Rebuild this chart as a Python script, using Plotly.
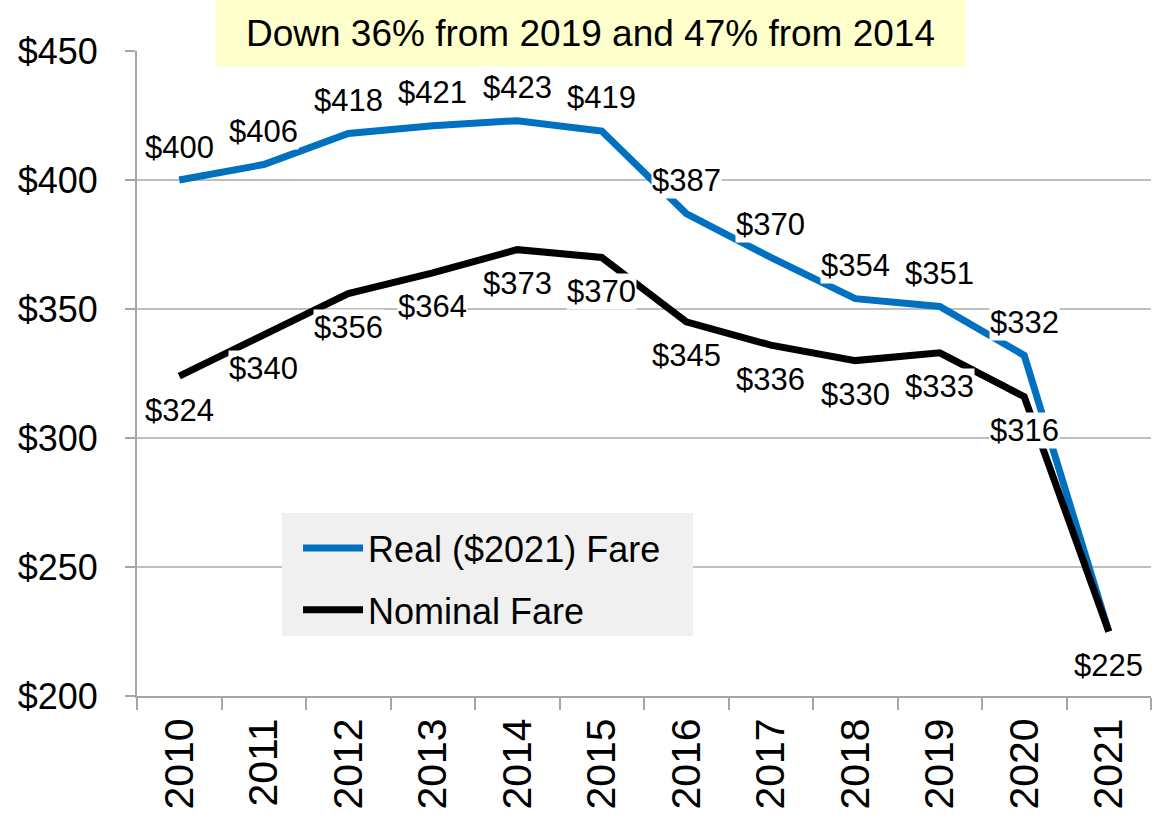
import plotly.graph_objects as go

years = ["2010", "2011", "2012", "2013", "2014", "2015", "2016", "2017", "2018", "2019", "2020", "2021"]
real_fare = [400, 406, 418, 421, 423, 419, 387, 370, 354, 351, 332, 225]
nominal_fare = [324, 340, 356, 364, 373, 370, 345, 336, 330, 333, 316, 225]
show_real_label = [True] * 11 + [False]
show_nominal_label = [True] * 12
y_ticks = [200, 250, 300, 350, 400, 450]
y_tick_text = ["$200", "$250", "$300", "$350", "$400", "$450"]
headline = "Down 36% from 2019 and 47% from 2014"

FONT = "Arial, Liberation Sans, sans-serif"
BLUE = "#0070C0"

fig = go.Figure()
fig.add_trace(go.Scatter(x=years, y=real_fare, mode="lines", name="Real ($2021) Fare",
                         line=dict(color=BLUE, width=7), legendgroup="a"))
fig.add_trace(go.Scatter(x=years, y=nominal_fare, mode="lines", name="Nominal Fare",
                         line=dict(color="#000000", width=7), legendgroup="b"))

annotations = []
for i, (v, s) in enumerate(zip(real_fare, show_real_label)):
    if s:
        annotations.append(dict(x=i, y=v, xref="x", yref="y", text=f"${v}", showarrow=False,
                                yshift=33, bgcolor="white", borderpad=0,
                                font=dict(family=FONT, size=31, color="black")))
for i, (v, s) in enumerate(zip(nominal_fare, show_nominal_label)):
    if s:
        annotations.append(dict(x=i, y=v, xref="x", yref="y", text=f"${v}", showarrow=False,
                                yshift=-34, bgcolor="white", borderpad=0,
                                font=dict(family=FONT, size=31, color="black")))
annotations.append(dict(xref="paper", yref="paper", x=0.447, y=1.028, text=headline,
                        showarrow=False, bgcolor="#FFFFCC", borderpad=0, width=749, height=66,
                        xanchor="center", yanchor="middle",
                        font=dict(family=FONT, size=37, color="black")))

fig.update_layout(
    width=1165, height=821,
    margin=dict(l=137, r=14, t=51, b=125, autoexpand=False),
    paper_bgcolor="white", plot_bgcolor="white",
    font=dict(family=FONT, color="black"),
    showlegend=True,
    legend=dict(x=0.1588, y=0.276, xanchor="left", yanchor="top",
                bgcolor="rgba(0,0,0,0)", font=dict(family=FONT, size=36, color="black"),
                traceorder="grouped", tracegroupgap=12, itemwidth=60),
    annotations=annotations,
    shapes=[dict(type="rect", xref="paper", yref="paper",
                 x0=(282 - 137) / 1014, x1=(693 - 137) / 1014,
                 y0=(696 - 636) / 645, y1=(696 - 513) / 645,
                 fillcolor="#F0F0F0", line=dict(width=0), layer="above")],
)
fig.update_xaxes(type="category", range=[-0.5, 11.5], tickson="boundaries",
                 ticks="outside", ticklen=12, tickcolor="#A6A6A6", tickwidth=2,
                 showline=True, linecolor="#A6A6A6", linewidth=2, automargin=False,
                 showgrid=False, tickangle=-90, ticklabelstandoff=4,
                 tickfont=dict(family=FONT, size=41, color="black"))
fig.update_yaxes(range=[200, 450], tickvals=y_ticks, ticktext=y_tick_text,
                 ticks="outside", ticklen=10, tickcolor="#A6A6A6", tickwidth=2,
                 showline=True, linecolor="#A6A6A6", linewidth=2, automargin=False,
                 showgrid=True, gridcolor="#BFBFBF", gridwidth=1.5, zeroline=False,
                 ticklabelstandoff=20,
                 tickfont=dict(family=FONT, size=36, color="black"))

fig.write_html("out.html", config={"displayModeBar": False},
               post_script="document.body.style.margin='0';document.body.style.overflow='hidden';")
